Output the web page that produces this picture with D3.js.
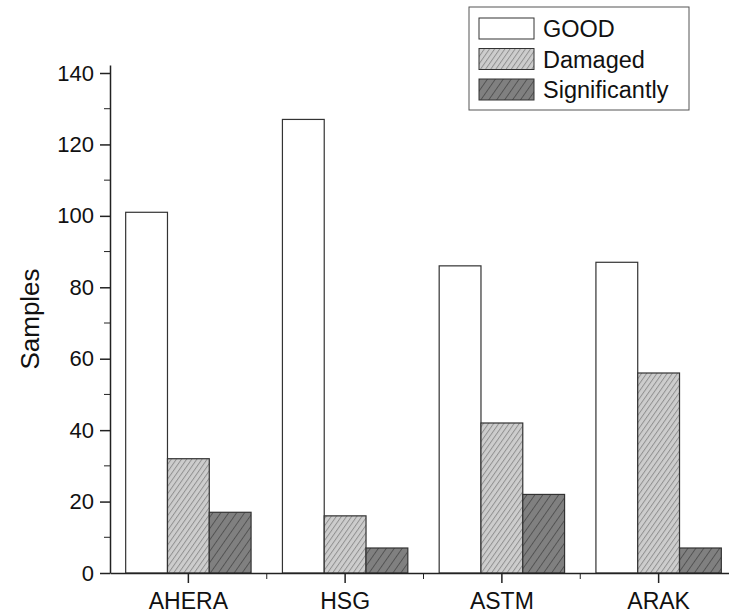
<!DOCTYPE html>
<html>
<head>
<meta charset="utf-8">
<script src="https://cdn.jsdelivr.net/npm/d3@7"></script>
<style>
  body { margin: 0; background: #fff; }
  text { font-family: "Liberation Sans", Arial, sans-serif; fill: #111; }
</style>
</head>
<body>
<div id="chart"></div>
<script>
const categories = ["AHERA", "HSG", "ASTM", "ARAK"];
const seriesNames = ["GOOD", "Damaged", "Significantly"];
const goodValues = [101, 127, 86, 87];
const damagedValues = [32, 16, 42, 56];
const significantValues = [17, 7, 22, 7];
const yTicks = [0, 20, 40, 60, 80, 100, 120, 140];
const yMinorTicks = [10, 30, 50, 70, 90, 110, 130];

const seriesValues = [goodValues, damagedValues, significantValues];
const fills = ["#ffffff", "url(#hatchLight)", "url(#hatchDark)"];

const width = 729, height = 615;
const plotLeft = 110, plotBottom = 573, plotTop = 65;

const svg = d3.select("#chart").append("svg")
    .attr("width", width)
    .attr("height", height);

// hatch patterns for the two shaded series
const defs = svg.append("defs");
function hatch(id, bg, line, gap) {
  const p = defs.append("pattern")
      .attr("id", id)
      .attr("patternUnits", "userSpaceOnUse")
      .attr("width", gap)
      .attr("height", gap)
      .attr("patternTransform", "rotate(35)");
  p.append("rect").attr("width", gap).attr("height", gap).attr("fill", bg);
  p.append("line")
      .attr("x1", 0.5).attr("y1", 0).attr("x2", 0.5).attr("y2", gap)
      .attr("stroke", line).attr("stroke-width", 0.9);
}
hatch("hatchLight", "#cdcdcd", "#8c8c8c", 4.2);
hatch("hatchDark", "#808080", "#4e4e4e", 6.5);

const x0 = d3.scaleBand()
    .domain(categories)
    .range([plotLeft, 737])
    .paddingInner(0.2)
    .paddingOuter(0.1);

const x1 = d3.scaleBand()
    .domain(seriesNames)
    .range([0, x0.bandwidth()]);

const y = d3.scaleLinear()
    .domain([0, 142.24])
    .range([plotBottom, plotTop]);

// bars
const rows = [];
categories.forEach((c, i) => {
  seriesNames.forEach((s, j) => {
    rows.push({cat: c, series: s, value: seriesValues[j][i], fill: fills[j]});
  });
});

svg.append("g").selectAll("rect")
  .data(rows)
  .enter().append("rect")
    .attr("x", d => x0(d.cat) + x1(d.series))
    .attr("y", d => y(d.value))
    .attr("width", x1.bandwidth())
    .attr("height", d => y(0) - y(d.value))
    .attr("fill", d => d.fill)
    .attr("stroke", "#333")
    .attr("stroke-width", 1.2);

// y axis
const yAxis = svg.append("g")
    .attr("transform", "translate(" + plotLeft + ",0)")
    .call(d3.axisLeft(y).tickValues(yTicks).tickSize(10).tickSizeOuter(0).tickPadding(6));
yAxis.selectAll(".tick text").style("font-size", "22px");
yAxis.append("g").selectAll("line")
  .data(yMinorTicks)
  .enter().append("line")
    .attr("x1", -6).attr("x2", 0)
    .attr("y1", d => y(d)).attr("y2", d => y(d))
    .attr("stroke", "#222");

// x axis
const xAxis = svg.append("g")
    .attr("transform", "translate(0," + plotBottom + ")")
    .call(d3.axisBottom(x0).tickSize(10).tickSizeOuter(0).tickPadding(10));
xAxis.selectAll(".tick text").style("font-size", "23px");
const bounds = categories.slice(1).map(c => x0(c) - x0.step() * x0.paddingInner() / 2);
xAxis.append("g").selectAll("line")
  .data(bounds)
  .enter().append("line")
    .attr("x1", d => d).attr("x2", d => d)
    .attr("y1", 0).attr("y2", 6)
    .attr("stroke", "#222");

svg.selectAll(".domain, .tick line").attr("stroke", "#222").attr("stroke-width", 1.5);

// y title
svg.append("text")
    .attr("transform", "translate(39," + (plotBottom + plotTop) / 2 + ") rotate(-90)")
    .attr("text-anchor", "middle")
    .style("font-size", "26px")
    .text("Samples");

// legend
const legend = svg.append("g").attr("transform", "translate(469,7)");
legend.append("rect")
    .attr("width", 220).attr("height", 103)
    .attr("fill", "#fff").attr("stroke", "#555").attr("stroke-width", 1);

const item = legend.selectAll(".legend")
  .data(seriesNames)
  .enter().append("g")
    .attr("class", "legend")
    .attr("transform", (d, i) => "translate(10," + (11 + i * 30.5) + ")");
item.append("rect")
    .attr("width", 55).attr("height", 21)
    .attr("fill", (d, i) => fills[i])
    .attr("stroke", "#333").attr("stroke-width", 1);
item.append("text")
    .attr("x", 64).attr("y", 19)
    .style("font-size", "23.5px")
    .text(d => d);
</script>
</body>
</html>
